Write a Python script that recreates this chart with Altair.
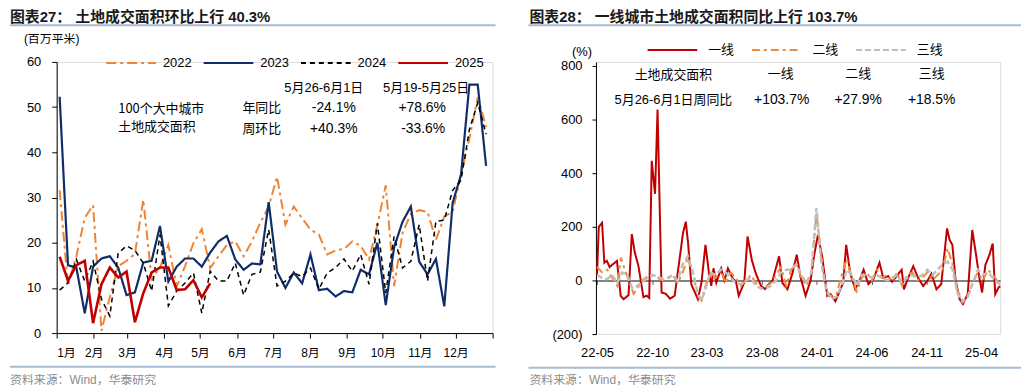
import altair as alt
import pandas as pd
import numpy as np

LAT = "Liberation Sans, Arial, Noto Sans CJK SC, sans-serif"
CJK = "Noto Sans CJK SC, sans-serif"

# ---------------- left panel data ----------------
years = ["2022", "2023", "2024", "2025"]
month_start_days = [0, 31, 59, 90, 120, 151, 181, 212, 243, 273, 304, 334, 365]
v2022 = [31.6, 10.5, 17, 25.5, 28.3, 0.5, 8, 14.8, 16, 17.5, 29.5, 12, 14.5, 19.5, 10.3, 14.8,
         19.9, 23, 14.4, 17, 19.5, 20.3, 17, 20.3, 24.4, 28, 34.6, 24, 28, 25.4, 22.9, 21.8,
         17.4, 18.3, 18.6, 20.3, 19.3, 16.3, 23.9, 32.7, 10.4, 22.1, 26.4, 27.2, 26.8, 20.6,
         25.8, 26.8, 35.2, 43, 52.2, 45.6]
v2023 = [52.3, 15, 14.5, 4.4, 14.7, 16.5, 17, 14.5, 8.4, 9, 15.6, 16, 23.7, 11.4, 14.7, 16.5,
         16.5, 14.7, 17.8, 20.3, 21.5, 16.3, 14, 15.4, 15.2, 29, 13.6, 10, 13.4, 11, 17.4, 9.5,
         9.8, 8.1, 9.3, 9, 14, 13, 20, 6.2, 19, 24.6, 28, 15.8, 13, 16.4, 5.9, 28.8, 35, 55,
         55, 37]
v2024 = [9.5, 11.1, 16.3, 11.5, 15.9, 7.5, 3.8, 17.7, 19.3, 18.3, 15.5, 9.3, 21.8, 6, 9.3,
         11.1, 13.3, 4.4, 13.7, 11.5, 11.5, 15.5, 8.4, 13, 13.5, 22.9, 10.4, 11.5, 13.3, 12.5,
         14.4, 9.7, 13.3, 14.5, 16.4, 13.7, 17.4, 10.8, 24.3, 8.9, 21.4, 14.4, 15.9, 24, 11.5,
         24.7, 25, 31.6, 33.8, 45, 51, 44]
v2025 = [16.9, 11.6, 15, 16, 2.2, 10.8, 14.5, 12.3, 13.6, 2.4, 8.8, 13.4, 14.5, 14.5, 9.5,
         9.7, 11.7, 7.9, 11]

left_colors = ["#EE8434", "#0F2D69", "#000000", "#C00000"]
left_dash = [[10, 4, 3, 4], [1, 0], [5, 4], [1, 0]]
left_width = [2, 2.2, 1.5, 2.6]

rows = []
for yr, vals in zip(years, [v2022, v2023, v2024, v2025]):
    for i, v in enumerate(vals):
        rows.append({"year": yr, "day": 2.5 + 7 * i, "value": v})
left_df = pd.DataFrame(rows)

# ---------------- right panel data ----------------
tiers = ["一线", "二线", "三线"]
red_wk = [0, 0.7, 2, 2.9, 3.9, 5, 7.9, 9.4, 10.5, 12.5,
          13.8, 15, 16.4, 18.4, 19.7, 20.7, 21.7, 23, 24, 25.6,
          27.3, 28.9, 30.8, 34.1, 35.2, 36.1, 37.4, 40, 41.4, 43,
          44.4, 45.3, 46.2, 47.3, 49.2, 50.5, 51.9, 53.8, 55.1, 56.2,
          58.4, 59.7, 61.4, 63, 65, 66.6, 68.1, 69.6, 72.2, 73.5,
          75.5, 77.5, 79.2, 80.7, 82.7, 84.7, 86, 87.6, 89.3, 91.3,
          92.6, 94.5, 97.6, 98.8, 100.4, 102.4, 104.1, 105.7, 107.6, 109.6,
          112, 113.5, 115.5, 117, 118.8, 120.8, 121.7, 123.4, 125.4, 127.3,
          129.3, 131.1, 132.6, 134.6, 136.5, 138.8, 139.8, 140.9, 142.2, 143.8,
          145.1, 147, 148.8, 150.3, 151.6, 152.7, 154, 155.6, 156.9, 157.9,
          159.2, 159.9]
red_val = [22, 200, 215, 66, 73, 50, 73, -58, -70, -55,
           173, 103, 55, -62, -57, -65, 446, 323, 637, -45,
           -50, -68, -57, 177, 219, 140, -15, -70, -9, 133,
           28, -20, 45, -9, 45, 0, 45, 7, -4, -57,
           -7, 164, 75, 25, -20, -32, -14, 0, 90, -9,
           -33, 27, 96, 12, -57, 0, 88, 170, 88, -58,
           -51, -78, -9, 133, 27, -33, 0, 40, -14, 5,
           66, 10, 16, -5, 16, 40, -33, 10, 53, 10,
           -21, 0, 25, -33, -14, 194, 151, 133, 0, -70,
           -88, -51, 188, 96, 10, -45, 58, 95, 138, -51,
           -27, -21]
orange_pts = [(0, 50), (2, 30), (4, 40), (6, 10), (8, -20), (9.5, 85), (11, 40), (13, -10),
              (14.5, -50), (16, -30), (18, 0), (20, 15), (22, 20), (24, 10), (26, 0), (28, 5),
              (30, 20), (32, -10), (34, 30), (36, 85), (38, 30), (40, -60), (41.5, -75),
              (43, -20), (45, 30), (47, 10), (49, 40), (51, -10), (53, 30), (55, 10), (57, -20),
              (59, 0), (61, 20), (63, -10), (65, -30), (67, -25), (69, -10), (71, 20), (73, 50),
              (75, -20), (77, 40), (79, 60), (81, 10), (83, -20), (85, 30), (87, 250), (89, 80),
              (91, -40), (93, -60), (95, -50), (97, 20), (99, 80), (101, 10), (103, -40),
              (105, 10), (107, 30), (109, 0), (111, 40), (113, 10), (115, 20), (117, -5),
              (119, 30), (121, -20), (123, 20), (125, 30), (127, 0), (129, 10), (131, 30),
              (133, 0), (135, 20), (137, 40), (139, 120), (141, 60), (143, -40), (145, -75),
              (147, -60), (149, -10), (151, 30), (153, 0), (155, 40), (157, 20), (159, -5),
              (160, -10)]
gray_pts = [(0, 20), (2, 10), (4, 5), (6, 20), (8, -10), (10, 30), (12, 20), (14, -30),
            (16, -20), (18, -5), (20, 10), (22, 20), (24, 15), (26, 5), (28, 10), (30, 20),
            (32, 0), (34, 60), (36, 90), (38, 30), (40, -50), (41.5, -75), (43, -30), (45, 30),
            (47, 20), (49, 40), (51, 30), (53, 10), (55, -10), (57, -15), (59, 0), (61, 10),
            (63, -20), (65, -30), (67, -30), (69, -20), (71, 0), (73, 30), (75, 40), (77, 40),
            (79, 60), (81, 20), (83, -10), (85, 30), (87, 270), (89, 60), (91, -40), (93, -70),
            (95, -60), (97, -20), (99, 40), (101, 20), (103, -20), (105, 20), (107, 20),
            (109, 10), (111, 20), (113, 10), (115, 0), (117, 10), (119, 20), (121, -10),
            (123, 10), (125, 20), (127, 10), (129, 20), (131, 40), (133, 20), (135, 40),
            (137, 60), (139, 70), (141, 40), (143, -50), (145, -80), (147, -60), (149, -10),
            (151, 40), (153, 20), (155, 30), (157, 10), (159, -10), (160, -15)]

right_colors = ["#C00000", "#F08A3C", "#BFBFBF"]
right_dash = [[1, 0], [8, 4, 3, 4], [6, 3]]
right_width = [2, 2, 2.5]

start = pd.Timestamp("2022-05-01")
rrows = []
series_pts = [list(zip(red_wk, red_val)), orange_pts, gray_pts]
for t, pts in zip(tiers, series_pts):
    for k, v in pts:
        rrows.append({"tier": t, "date": start + pd.Timedelta(days=7 * k), "value": v})
right_df = pd.DataFrame(rrows)

# ---------------- helpers ----------------
one = pd.DataFrame({"k": [0]})


def txt(s, x, y, font=LAT, size=13, align="left", weight="normal", color="#000000", lh=None):
    kw = dict(align=align, baseline="middle", font=font, fontSize=size,
              fontWeight=weight, color=color)
    if lh is not None:
        kw["lineHeight"] = lh
    return alt.Chart(pd.DataFrame({"t": [s]})).mark_text(**kw).encode(
        x=alt.value(x), y=alt.value(y), text="t:N")


def hline(x1, x2, y, color="#A7BBD3", width=2):
    return alt.Chart(one).mark_rule(color=color, strokeWidth=width).encode(
        x=alt.value(x1), x2=alt.value(x2), y=alt.value(y))


# ---------------- left chart ----------------
W1, H1 = 439, 273
left_legend = alt.Legend(orient="none", legendX=49, legendY=-25, direction="horizontal",
                         title=None, symbolType="stroke", symbolSize=2500,
                         symbolStrokeWidth=2, labelFont=LAT, labelFontSize=13,
                         labelColor="#000000", labelOffset=6, columnPadding=8, padding=0)
lx = alt.X("day:Q", scale=alt.Scale(domain=[0, 365], nice=False, zero=False),
           axis=alt.Axis(values=month_start_days, title=None, grid=False, tickSize=5,
                         labelPadding=10, domainColor="#000000", tickColor="#000000",
                         labelFont=LAT, labelFontSize=12, labelColor="#000000",
                         labelExpr="datum.value >= 365 ? '' : (indexof([0,31,59,90,120,151,181,212,243,273,304,334], datum.value) + 1) + '月'"))
ly = alt.Y("value:Q", scale=alt.Scale(domain=[0, 60], nice=False),
           axis=alt.Axis(values=[0, 10, 20, 30, 40, 50, 60], title=None, grid=False,
                         tickSize=5, labelPadding=11, domainColor="#000000",
                         tickColor="#000000", labelFont=LAT, labelFontSize=13,
                         labelColor="#000000"))
lcolor = alt.Color("year:N", scale=alt.Scale(domain=years, range=left_colors), legend=left_legend)
ldash = alt.StrokeDash("year:N", scale=alt.Scale(domain=years, range=left_dash), legend=left_legend)

left_layers = []
for yr, w in zip(years, left_width):
    left_layers.append(
        alt.Chart(left_df[left_df.year == yr]).mark_line(strokeWidth=w).encode(
            x=lx, y=ly, color=lcolor, strokeDash=ldash))

left_text = [
    txt("图表27：  土地成交面积环比上行 40.3%", -47, -45, size=15, weight="bold",
        color="#1a1a1a", lh=15),
    hline(-47, 442, -37),
    txt("(百万平米)", -33, -23, font=LAT, size=12),
    txt("100个大中城市", 62, 47, font=CJK, size=13),
    txt("土地成交面积", 62, 66, font=CJK, size=13),
    txt("5月26-6月1日", 269, 26, align="center"),
    txt("5月19-5月25日", 372, 26, align="center"),
    txt("年同比", 187, 46, font=CJK),
    txt("周环比", 187, 68, font=CJK),
    txt("-24.1%", 279, 46, align="center", size=14),
    txt("+78.6%", 368, 46, align="center", size=14),
    txt("+40.3%", 279, 68, align="center", size=14),
    txt("-33.6%", 369, 68, align="center", size=14),
    hline(-47, 442, 307),
    txt("资料来源：Wind，华泰研究", -47, 320, size=12, color="#8c8c8c"),
]
left = alt.layer(*left_layers, *left_text).properties(width=W1, height=H1)

# ---------------- right chart ----------------
W2, H2 = 407, 274
Y2_TOP = 814.8
right_legend = alt.Legend(orient="none", legendX=51, legendY=-38, direction="horizontal",
                          title=None, symbolType="stroke", symbolSize=2500,
                          symbolStrokeWidth=2, labelFont=CJK, labelFontSize=13,
                          labelColor="#000000", labelOffset=10, columnPadding=13, padding=0)
tick_dates = [alt.DateTime(year=y, month=m, date=1) for y, m in
              [(2022, 5), (2022, 10), (2023, 3), (2023, 8), (2024, 1), (2024, 6), (2024, 11), (2025, 4)]]
rx = alt.X("date:T",
           scale=alt.Scale(domain=[alt.DateTime(year=2022, month=4, date=28),
                                   alt.DateTime(year=2025, month=5, date=24)]),
           axis=alt.Axis(values=tick_dates, format="%y-%m", title=None, grid=False,
                         offset=-54, tickSize=4, labelPadding=63, domainColor="#595959",
                         domainWidth=1.5, tickColor="#595959", labelFont=LAT,
                         labelFontSize=13, labelColor="#000000"))
ry = alt.Y("value:Q", scale=alt.Scale(domain=[-200, Y2_TOP], nice=False),
           axis=alt.Axis(values=[-200, 0, 200, 400, 600, 800], title=None, grid=False,
                         tickSize=4, labelPadding=10, domainColor="#000000",
                         tickColor="#000000", labelFont=LAT, labelFontSize=13,
                         labelColor="#000000",
                         labelExpr="datum.value < 0 ? '(' + abs(datum.value) + ')' : datum.value"))
rcolor = alt.Color("tier:N", scale=alt.Scale(domain=tiers, range=right_colors), legend=right_legend)
rdash = alt.StrokeDash("tier:N", scale=alt.Scale(domain=tiers, range=right_dash), legend=right_legend)

right_layers = []
for t, w in zip(tiers, right_width):
    right_layers.append(
        alt.Chart(right_df[right_df.tier == t]).mark_line(strokeWidth=w).encode(
            x=rx, y=ry, color=rcolor, strokeDash=rdash))

right_text = [
    txt("图表28：  一线城市土地成交面积同比上行 103.7%", -67, -45, size=15, weight="bold",
        color="#1a1a1a", lh=15),
    hline(-68, 428, -37),
    txt("(%)", -14, -10, align="center"),
    txt("土地成交面积", 78, 13, font=CJK, align="center"),
    txt("一线", 186, 12, font=CJK, align="center"),
    txt("二线", 264, 12, font=CJK, align="center"),
    txt("三线", 338, 12, font=CJK, align="center"),
    txt("5月26-6月1日周同比", 78, 38, align="center"),
    txt("+103.7%", 187, 38, align="center", size=14),
    txt("+27.9%", 264, 38, align="center", size=14),
    txt("+18.5%", 338, 38, align="center", size=14),
    hline(-68, 428, 308),
    txt("资料来源：Wind，华泰研究", -67, 320, size=12, color="#8c8c8c"),
]
right = alt.layer(*right_layers, *right_text).properties(width=W2, height=H2)

chart = alt.hconcat(left, right, spacing=29).resolve_scale(
    color="independent", strokeDash="independent"
).resolve_legend(color="independent", strokeDash="independent").properties(
    padding=0
).configure_view(stroke=None).configure(background="white")

chart.save("out.html", embed_options={"renderer": "svg", "actions": False})
